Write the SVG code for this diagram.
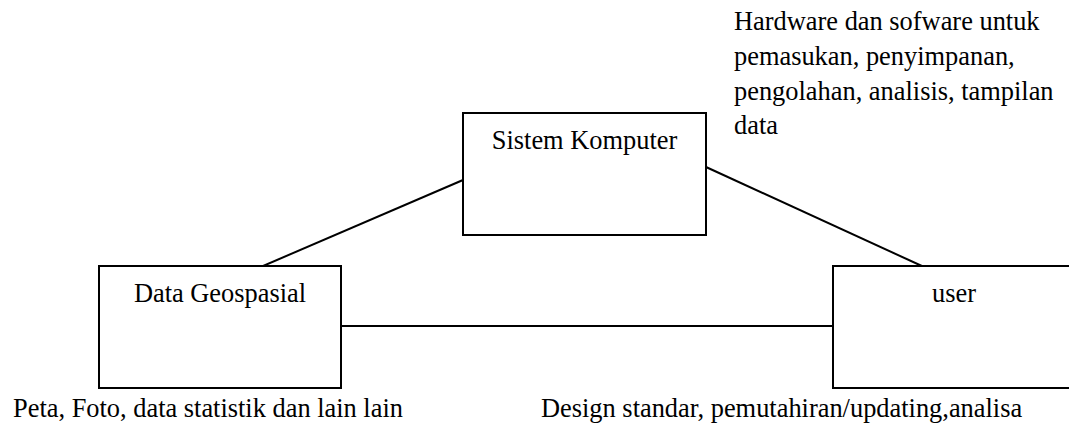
<svg xmlns="http://www.w3.org/2000/svg" width="1069" height="425" viewBox="0 0 1069 425">
  <style>
    .box { fill: #ffffff; stroke: #000000; stroke-width: 2; }
    .link { stroke: #000000; stroke-width: 2; fill: none; }
    text { font-family: "Liberation Serif", "Times New Roman", serif; font-size: 26.4px; fill: #000000; }
    .c { text-anchor: middle; }
  </style>
  <rect width="1069" height="425" fill="#ffffff"/>

  <!-- connectors between the three components -->
  <g id="connectors">
    <line class="link" x1="463" y1="180" x2="249" y2="272"/>
    <line class="link" x1="706" y1="167" x2="935" y2="272"/>
    <line class="link" x1="341" y1="326" x2="833" y2="326"/>
  </g>

  <g id="sistem-komputer">
    <rect class="box" x="463" y="113" width="243" height="122"/>
    <text class="c" x="584.5" y="149">Sistem Komputer</text>
  </g>

  <g id="data-geospasial">
    <rect class="box" x="99" y="266" width="242" height="122"/>
    <text class="c" x="220" y="302">Data Geospasial</text>
  </g>

  <g id="user">
    <rect class="box" x="833" y="266" width="242" height="122"/>
    <text class="c" x="954" y="302">user</text>
  </g>

  <!-- descriptive notes -->
  <g id="note-komputer">
    <text x="734" y="30">Hardware dan sofware untuk</text>
    <text x="734" y="65">pemasukan, penyimpanan,</text>
    <text x="734" y="100">pengolahan, analisis, tampilan</text>
    <text x="734" y="134">data</text>
  </g>
  <g id="note-data">
    <text x="13" y="417">Peta, Foto, data statistik dan lain lain</text>
  </g>
  <g id="note-user">
    <text x="541" y="417">Design standar, pemutahiran/updating,analisa</text>
  </g>
</svg>
